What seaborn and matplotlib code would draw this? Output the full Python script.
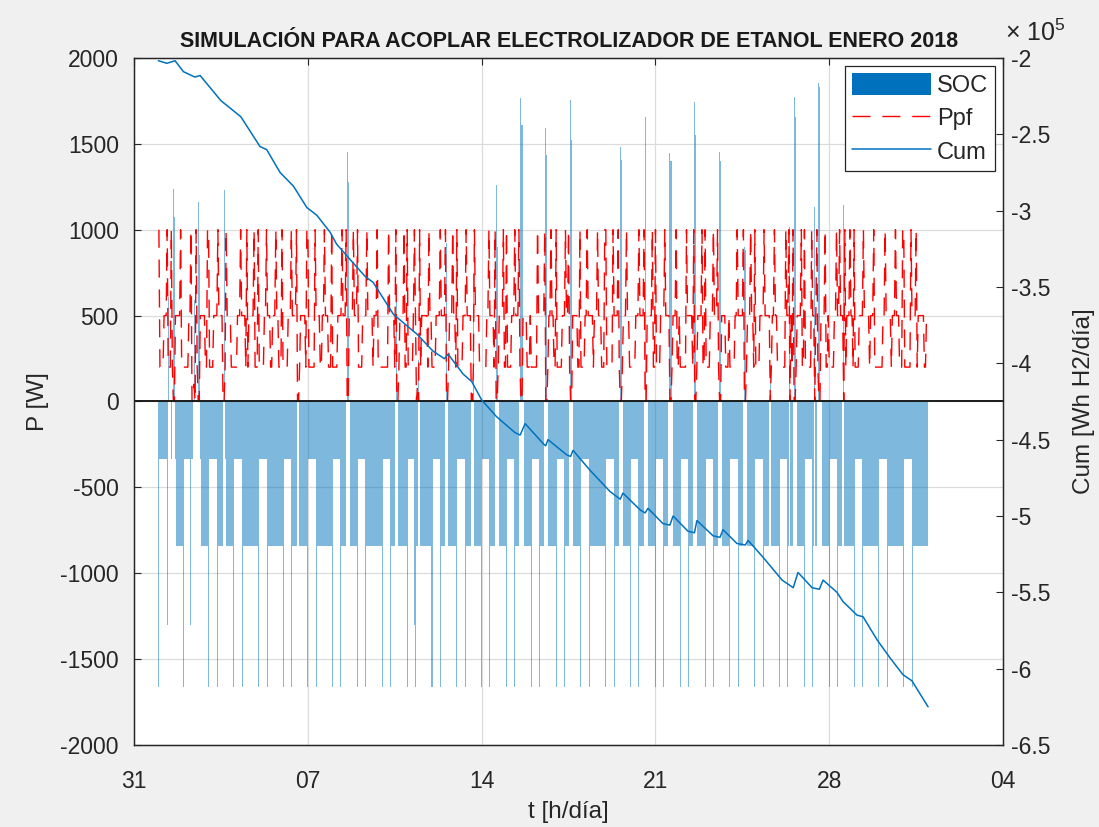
import numpy as np
import pandas as pd
import matplotlib
matplotlib.use("Agg")
import matplotlib.pyplot as plt
import matplotlib.dates as mdates
from matplotlib.ticker import FuncFormatter
from matplotlib.patches import Patch
from matplotlib.lines import Line2D
import seaborn as sns

sns.set_theme(style="white")
plt.rcParams["font.family"] = ["Liberation Sans", "DejaVu Sans"]
plt.rcParams["axes.unicode_minus"] = False
plt.rcParams["mathtext.fontset"] = "custom"
plt.rcParams["mathtext.rm"] = "Liberation Sans"

# ---------------------------------------------------------------------------
# Hourly SOC levels for every day of January 2018 (codes per hour, 4 blocks of 6 h)
soc_levels = {"n": -333, "d": -840, "D": -1660, "x": -1300, "z": 0}
soc_days = [
    "Dnnnnn nnxazz nzpqnd dddddd",  # 01
    "Dnnnnn nxnzaz zzpqnd dddddd",  # 02
    "Dnnnnn nnnDdd ddzpnd dddddd",  # 03
    "Dnnnnn nnnDdd dddddd dddddd",  # 04
    "Dnnnnn nnnDdd dddddd dddddd",  # 05
    "Dnnnnn nnDddd ddzzdd dddddd",  # 06
    "Dnnnnn nnDddd dddddd dddddd",  # 07
    "Dnnnnn nnDddd dzpqzd dddddd",  # 08
    "Dnnnnn nnDddd dddddd dddddd",  # 09
    "Dnnnnn nnDddd dzpzdd dddddd",  # 10
    "Dnnnnn nxDddp zddddd dddddd",  # 11
    "Dnnnnn nnDddd dzpzdd dddddd",  # 12
    "Dnnnnn nnDddd ddzzpd dddddd",  # 13
    "Dnnnnn nnDddd dzpqzd dddddd",  # 14
    "Dnnnnn nnDddd dzpqzd dddddd",  # 15
    "Dnnnnn nnDddd dzpqzd dddddd",  # 16
    "Dnnnnn nnDddd dzpqzd dddddd",  # 17
    "Dnnnnn nnDddd dddddd dddddd",  # 18
    "Dnnnnn nnDddd dzpqzd dddddd",  # 19
    "Dnnnnn nnDddd dzpqzd dddddd",  # 20
    "Dnnnnn nnDddd dzpqzd dddddd",  # 21
    "Dnnnnn nnDddd dzpqzd dddddd",  # 22
    "Dnnnnn nnDddd dzpqzd dddddd",  # 23
    "Dnnnnn nnDddd dzpqzd dddddd",  # 24
    "Dnnnnn nnDddd ddzpdd dddddd",  # 25
    "Dnnnnn nnDdad dzpqzd dddddd",  # 26
    "Dnnnnn nnDdad dzpqzd dddddd",  # 27
    "Dnnnnn nnDddd dzpddd dddddd",  # 28
    "Dnnnnn nnDddd dddddd dddddd",  # 29
    "Dnnnnn nnDddd dddddd dddddd",  # 30
    "Dnnnnn nnDddd dddddd dddddd",  # 31
]
# surplus peaks (W) per day: 'p' = main peak, 'q' = following hour, 'a' = morning peak
soc_peak = [1240, 1160, 1230, 0, 0, 0, 0, 1450, 0, 660, 240, 920, 750, 1260, 1765, 1590,
            1755, 0, 1484, 1658, 1447, 1746, 1455, 900, 200, 1775, 1852, 1144, 0, 0, 0]
soc_peak2 = [1076, 850, 0, 0, 0, 0, 0, 1280, 0, 0, 0, 0, 0, 900, 1610, 1435,
             1523, 0, 1406, 0, 1400, 1552, 1400, 880, 0, 1658, 1833, 0, 0, 0, 0]
soc_am = [610, 590, 0, 0, 0, 0, 0, 0, 0, 0, 0, 0, 0, 0, 0, 0,
          0, 0, 0, 0, 0, 0, 0, 0, 0, 1018, 1134, 0, 0, 0, 0]

# Hourly Ppf levels per day
ppf_levels = {"T": 1000, "5": 500, "2": 200, "1": 100, "0": 0}
ppf_days = [
    "T22225 55T222 T20055 555T22",  # 01
    "222225 5T0010 T20055 55522T",  # 02
    "T22225 555T55 55002T 555522",  # 03
    "222255 5T5555 2T2555 55T222",  # 04
    "T22222 55T555 22555T 55222T",  # 05
    "222225 55T555 5T0025 55552T",  # 06
    "T22222 2T5555 2255T5 55222T",  # 07
    "222225 555T55 5T0055 55T555",  # 08
    "T22225 555T55 555255 5T2222",  # 09
    "222222 T55555 2T0025 555T22",  # 10
    "T22222 5T5010 T25555 552T55",  # 11
    "222255 55T555 5T0025 55T552",  # 12
    "T22222 555T55 55002T 555522",  # 13
    "222225 5T5555 2T0025 555T22",  # 14
    "T22225 55T555 T20055 552225",  # 15
    "222222 T55555 5T0025 5T5522",  # 16
    "T22222 555T55 T20055 55522T",  # 17
    "222255 T55555 2555T5 55222T",  # 18
    "T22222 2T5555 T20025 55T552",  # 19
    "222225 55T555 5T0055 555T22",  # 20
    "T22225 555T55 550025 55T225",  # 21
    "222222 T55555 2T0025 555T22",  # 22
    "T22225 55T555 T20055 552225",  # 23
    "222225 5T5555 5T0025 55T552",  # 24
    "T22225 555T55 555025 5T5522",  # 25
    "222222 T55T05 2T0025 555T22",  # 26
    "T22222 2T5505 T20055 55T225",  # 27
    "222225 5T55T5 550T25 55T552",  # 28
    "T22225 555T55 555255 5T2222",  # 29
    "222255 T55555 2555T5 55222T",  # 30
    "T22222 2T5555 T25555 552255",  # 31
]

# Accumulated hydrogen energy (Wh), sampled along the month (days since 31-Dec)
cum_day = [0.98, 1.32, 1.65, 1.99, 2.45, 2.66, 3.50, 4.30, 5.07, 5.34, 5.88, 6.42, 6.96,
           7.36, 7.89, 8.16, 8.70, 9.30, 9.63, 10.45, 11.40, 12.04, 12.50, 12.65, 13.25,
           13.60, 14.00, 14.60, 15.35, 15.55, 15.75, 16.50, 16.58, 16.67, 17.43, 17.58,
           17.68, 18.36, 19.17, 19.58, 19.69, 20.38, 20.58, 20.70, 21.30, 21.58, 21.71,
           22.31, 22.57, 22.67, 23.32, 23.60, 23.72, 24.28, 24.62, 24.73, 25.33, 26.10,
           26.55, 26.74, 27.31, 27.60, 27.75, 28.31, 28.55, 29.12, 29.36, 29.92, 30.45,
           30.97, 31.33, 31.98]
cum_wh = [-201800, -203500, -201800, -209000, -212500, -211500, -228000, -238500, -258000,
          -260000, -275000, -284000, -298000, -303000, -314000, -322000, -332000, -343000,
          -347000, -368000, -381000, -392000, -397000, -394000, -407000, -412000, -424000,
          -435000, -445500, -447000, -439500, -453000, -454000, -450000, -460000, -461000,
          -457000, -470000, -484000, -489000, -485000, -496000, -498000, -495000, -505000,
          -506000, -500000, -510000, -511000, -503000, -513000, -514000, -509000, -518000,
          -519000, -516000, -527000, -542000, -547000, -537000, -547000, -548000, -542000,
          -550000, -556000, -565000, -566000, -581000, -593000, -604000, -608000, -625000]

x_ticks = ["2017-12-31", "2018-01-07", "2018-01-14", "2018-01-21", "2018-01-28", "2018-02-04"]

# ---------------------------------------------------------------------------
def expand_soc():
    vals = []
    for i, s in enumerate(soc_days):
        for c in s.replace(" ", ""):
            if c == "p":
                vals.append(soc_peak[i])
            elif c == "q":
                vals.append(soc_peak2[i])
            elif c == "a":
                vals.append(soc_am[i])
            else:
                vals.append(soc_levels[c])
    return np.array(vals, dtype=float)


def expand_ppf():
    return np.array([ppf_levels[c] for s in ppf_days for c in s.replace(" ", "")], dtype=float)


soc = expand_soc()
ppf = expand_ppf()
hours = pd.date_range("2018-01-01 00:00", periods=len(soc), freq="h")
df = pd.DataFrame({"t": hours, "SOC": soc, "Ppf": ppf})
cum_t = pd.Timestamp("2017-12-31") + pd.to_timedelta(np.array(cum_day), unit="D")
cum_df = pd.DataFrame({"t": cum_t, "Cum": np.array(cum_wh) / 1e5})

blue = "#0072BD"
ink = "#262626"
dash = (0, (13, 8.5))

fig = plt.figure(figsize=(10.99, 8.27), dpi=100, facecolor="#F0F0F0")
ax = fig.add_axes([0.122, 0.0992, 0.7907, 0.8307])
ax.set_facecolor("white")

# semi-transparent hourly bars
ax.bar(df["t"], df["SOC"], width=1 / 24, color=blue, alpha=0.5, linewidth=0, zorder=2)
sns.lineplot(data=df, x="t", y="Ppf", ax=ax, color="red", linewidth=1.0,
             linestyle=dash, errorbar=None, zorder=3)
ax.axhline(0, color="#1a1a1a", linewidth=1.4, zorder=4)

ax.set_xlim(pd.Timestamp(x_ticks[0]), pd.Timestamp(x_ticks[-1]))
ax.set_ylim(-2000, 2000)
ax.set_xticks([pd.Timestamp(t) for t in x_ticks])
ax.xaxis.set_major_formatter(mdates.DateFormatter("%d"))
ax.set_yticks(np.arange(-2000, 2001, 500))
ax.yaxis.set_major_formatter(FuncFormatter(lambda v, p: f"{int(v)}"))
ax.grid(True, color="#DCDCDC", linewidth=0.9, zorder=0)
ax.set_axisbelow(True)

ax2 = ax.twinx()
sns.lineplot(data=cum_df, x="t", y="Cum", ax=ax2, color=blue, linewidth=1.1, errorbar=None)
ax2.set_ylim(-6.5, -2.0)
ax2.set_yticks(np.arange(-6.5, -1.99, 0.5))
ax2.yaxis.set_major_formatter(FuncFormatter(lambda v, p: f"{v:g}"))
ax2.set_xlim(pd.Timestamp(x_ticks[0]), pd.Timestamp(x_ticks[-1]))

for a in (ax, ax2):
    for sp in a.spines.values():
        sp.set_color(ink)
        sp.set_linewidth(0.9)
ax.tick_params(axis="x", direction="in", top=True, length=5, width=0.8, labelsize=16.5,
               pad=18, colors=ink)
ax.tick_params(axis="y", direction="in", length=5, width=0.8, labelsize=16.5, pad=11,
               colors=ink)
ax2.tick_params(axis="y", direction="in", length=5, width=0.8, labelsize=16.5, pad=6,
                colors=ink)

ax.set_xlabel("t [h/día]", fontsize=17.5, color=ink, labelpad=6)
ax.set_ylabel("P [W]", fontsize=17.5, color=ink, labelpad=8)
ax2.set_ylabel("Cum [Wh H2/día]", fontsize=17.5, color=ink, labelpad=16)
ax.set_title("SIMULACIÓN PARA ACOPLAR ELECTROLIZADOR DE ETANOL ENERO 2018",
             fontsize=15.5, fontweight="bold", color="#1a1a1a", pad=8)
fig.text(0.9145, 0.944, r"$\times\;\mathregular{10^{5}}$", fontsize=18, color=ink,
         ha="left", va="bottom")

handles = [Patch(facecolor=blue, edgecolor="none"),
           Line2D([], [], color="red", linewidth=1.0, linestyle=dash),
           Line2D([], [], color=blue, linewidth=1.1)]
leg = ax2.legend(handles, ["SOC", "Ppf", "Cum"], loc="upper right",
                 bbox_to_anchor=(0.9908, 0.9884), fontsize=17, frameon=True, fancybox=False,
                 edgecolor=ink, framealpha=1, handlelength=3.35, handleheight=1.05,
                 handletextpad=0.25, borderpad=0.3, labelspacing=0.4, borderaxespad=0)
leg.get_frame().set_linewidth(0.9)

fig.savefig("out.png", dpi=100, facecolor=fig.get_facecolor())
